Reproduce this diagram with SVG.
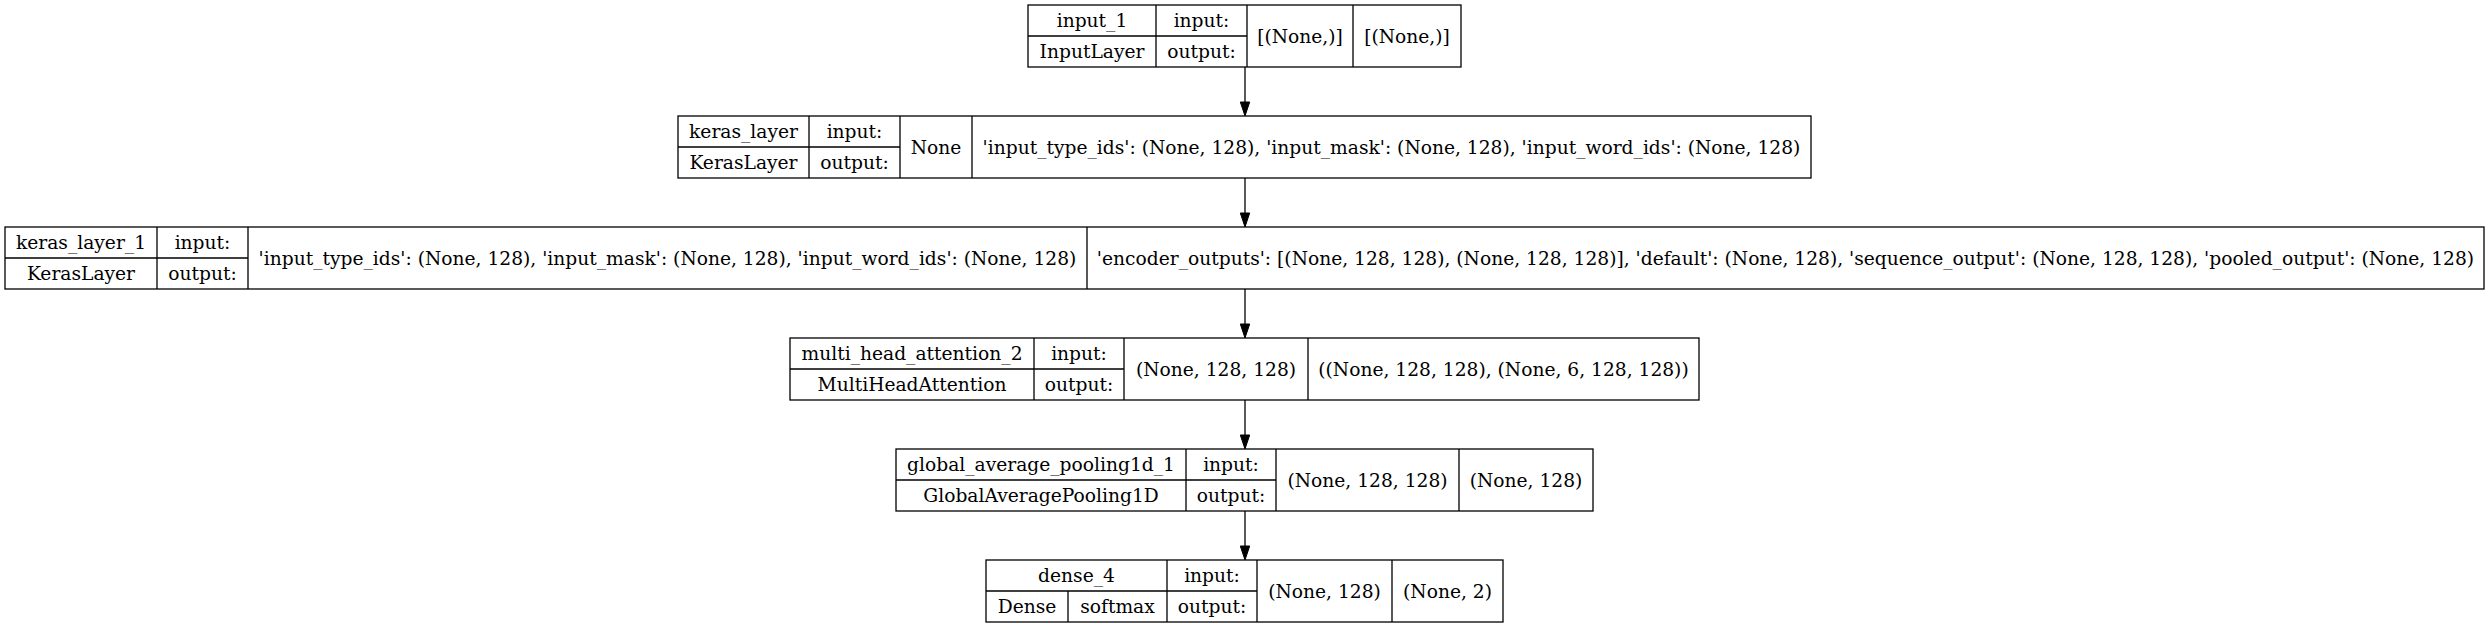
<svg xmlns="http://www.w3.org/2000/svg" width="2489" height="627" viewBox="0 0 2489 627">
<style>
.b{fill:#fff;stroke:#000;stroke-width:1.3}
.l{stroke:#000;stroke-width:1.3;fill:none}
text{font-family:"DejaVu Serif","Liberation Serif",serif;font-size:18.67px;fill:#000;text-anchor:middle}
.e{stroke:#000;stroke-width:1.3;fill:none}
.h{fill:#000;stroke:#000;stroke-width:1}
</style>
<rect width="2489" height="627" fill="#fff"/>
<g id="connectors">
<line class="e" x1="1245" y1="67" x2="1245" y2="103"/><polygon class="h" points="1240.3,102 1249.7,102 1245,116"/>
<line class="e" x1="1245" y1="178" x2="1245" y2="214"/><polygon class="h" points="1240.3,213 1249.7,213 1245,227"/>
<line class="e" x1="1245" y1="289" x2="1245" y2="325"/><polygon class="h" points="1240.3,324 1249.7,324 1245,338"/>
<line class="e" x1="1245" y1="400" x2="1245" y2="436"/><polygon class="h" points="1240.3,435 1249.7,435 1245,449"/>
<line class="e" x1="1245" y1="511" x2="1245" y2="547"/><polygon class="h" points="1240.3,546 1249.7,546 1245,560"/>
</g>
<g id="input_1">
<rect class="b" x="1028" y="5" width="433" height="62"/>
<path class="l" d="M1028,36H1247M1156,5V67M1247,5V67M1353,5V67"/>
<text x="1092" y="27">input_1</text><text x="1092" y="58">InputLayer</text>
<text x="1201.5" y="27">input:</text><text x="1201.5" y="58">output:</text>
<text x="1300" y="42.5">[(None,)]</text><text x="1407" y="42.5">[(None,)]</text>
</g>
<g id="keras_layer">
<rect class="b" x="678" y="116" width="1133" height="62"/>
<path class="l" d="M678,147H900M809,116V178M900,116V178M972,116V178"/>
<text x="743.5" y="138">keras_layer</text><text x="743.5" y="169">KerasLayer</text>
<text x="854.5" y="138">input:</text><text x="854.5" y="169">output:</text>
<text x="936" y="153.5">None</text>
<text x="1391.5" y="153.5">'input_type_ids': (None, 128), 'input_mask': (None, 128), 'input_word_ids': (None, 128)</text>
</g>
<g id="keras_layer_1">
<rect class="b" x="5" y="227" width="2479" height="62"/>
<path class="l" d="M5,258H248M157,227V289M248,227V289M1087,227V289"/>
<text x="81" y="249">keras_layer_1</text><text x="81" y="280">KerasLayer</text>
<text x="202.5" y="249">input:</text><text x="202.5" y="280">output:</text>
<text x="667.5" y="264.5">'input_type_ids': (None, 128), 'input_mask': (None, 128), 'input_word_ids': (None, 128)</text>
<text x="1785.5" y="264.5">'encoder_outputs': [(None, 128, 128), (None, 128, 128)], 'default': (None, 128), 'sequence_output': (None, 128, 128), 'pooled_output': (None, 128)</text>
</g>
<g id="multi_head_attention_2">
<rect class="b" x="790" y="338" width="909" height="62"/>
<path class="l" d="M790,369H1124M1034,338V400M1124,338V400M1308,338V400"/>
<text x="912" y="360">multi_head_attention_2</text><text x="912" y="391">MultiHeadAttention</text>
<text x="1079" y="360">input:</text><text x="1079" y="391">output:</text>
<text x="1216" y="375.5">(None, 128, 128)</text>
<text x="1503.5" y="375.5">((None, 128, 128), (None, 6, 128, 128))</text>
</g>
<g id="global_average_pooling1d_1">
<rect class="b" x="896" y="449" width="697" height="62"/>
<path class="l" d="M896,480H1276M1186,449V511M1276,449V511M1459,449V511"/>
<text x="1041" y="471">global_average_pooling1d_1</text><text x="1041" y="502">GlobalAveragePooling1D</text>
<text x="1231" y="471">input:</text><text x="1231" y="502">output:</text>
<text x="1367.5" y="486.5">(None, 128, 128)</text>
<text x="1526" y="486.5">(None, 128)</text>
</g>
<g id="dense_4">
<rect class="b" x="986" y="560" width="517" height="62"/>
<path class="l" d="M986,591H1257M1068,591V622M1167,560V622M1257,560V622M1392,560V622"/>
<text x="1076.5" y="582">dense_4</text><text x="1027" y="613">Dense</text><text x="1117.5" y="613">softmax</text>
<text x="1212" y="582">input:</text><text x="1212" y="613">output:</text>
<text x="1324.5" y="597.5">(None, 128)</text>
<text x="1447.5" y="597.5">(None, 2)</text>
</g>
</svg>
